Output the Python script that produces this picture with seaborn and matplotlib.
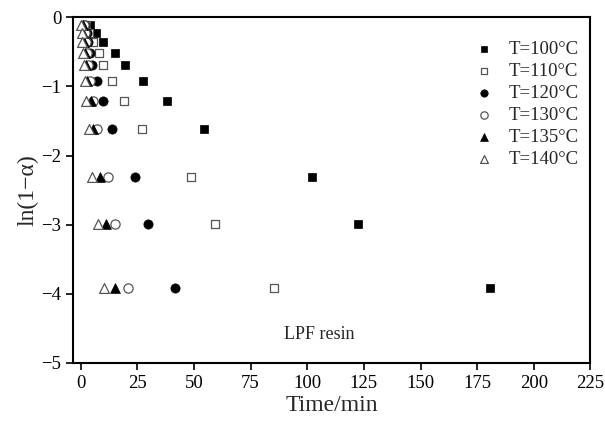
import numpy as np
import pandas as pd
import matplotlib
matplotlib.use("Agg")
import matplotlib.pyplot as plt
import seaborn as sns

# ln(1-alpha) levels, alpha = 0.1 ... 0.98
ln_conv = [-0.105, -0.223, -0.357, -0.511, -0.693, -0.916, -1.204, -1.609, -2.303, -2.996, -3.912]

t_100 = [4.2, 6.6, 10.0, 15.0, 19.5, 27.7, 37.9, 54.6, 102.2, 122.6, 180.5]
t_110 = [2.5, 3.6, 5.4, 7.9, 10.0, 13.8, 19.2, 27.2, 48.8, 59.2, 85.2]
t_120 = [1.9, 2.6, 3.4, 3.9, 5.1, 7.3, 9.7, 13.8, 24.0, 29.6, 41.5]
t_130 = [1.3, 1.7, 2.2, 2.7, 3.3, 4.0, 5.4, 7.3, 11.9, 15.1, 20.7]
t_135 = [0.9, 1.2, 1.6, 2.0, 2.5, 3.0, 4.4, 5.6, 8.6, 11.2, 15.1]
t_140 = [0.3, 0.4, 0.7, 1.0, 1.3, 1.75, 2.5, 3.65, 5.2, 7.6, 10.5]

labels = ["T=100°C", "T=110°C", "T=120°C", "T=130°C", "T=135°C", "T=140°C"]
times = [t_100, t_110, t_120, t_130, t_135, t_140]

x_ticks = [0, 25, 50, 75, 100, 125, 150, 175, 200, 225]
y_ticks = [0, -1, -2, -3, -4, -5]

sns.set_theme(style="ticks")
plt.rcParams["font.family"] = ["Liberation Serif", "DejaVu Serif"]

styles = [
    dict(marker="s", s=34, color="black", edgecolor="black", linewidth=0.5),
    dict(marker="s", s=34, facecolor="white", edgecolor="#555555", linewidth=0.9),
    dict(marker="o", s=44, color="black", edgecolor="black", linewidth=0.5),
    dict(marker="o", s=44, facecolor="white", edgecolor="#555555", linewidth=0.9),
    dict(marker="^", s=50, color="black", edgecolor="black", linewidth=0.5),
    dict(marker="^", s=50, facecolor="white", edgecolor="#555555", linewidth=0.9),
]

fig = plt.figure(figsize=(6.05, 4.24), dpi=100)
ax = fig.add_axes([0.121, 0.144, 0.855, 0.815])

for t, lab, st in zip(times, labels, styles):
    df = pd.DataFrame({"time": t, "y": ln_conv})
    sns.scatterplot(data=df, x="time", y="y", ax=ax, label=lab, zorder=3, **st)

ax.set_xlim(-3.3, 225)
ax.set_ylim(-5, 0)
ax.set_xticks(x_ticks)
ax.set_yticks(y_ticks)
ax.tick_params(direction="out", length=5, width=1.2, labelsize=13.5, colors="black")
ax.tick_params(top=False, right=False)
for sp in ax.spines.values():
    sp.set_visible(True)
    sp.set_linewidth(1.5)
    sp.set_color("black")

ax.set_xlabel("Time/min", fontsize=17, labelpad=2)
ax.set_ylabel("ln(1\u2212\u03b1)", fontsize=17, labelpad=2)

ax.text(0.475, 0.081, "LPF resin", transform=ax.transAxes, ha="center",
        va="center", fontsize=13)

leg = ax.legend(loc="upper right", bbox_to_anchor=(1.0, 0.965), frameon=False,
                fontsize=13.5, handletextpad=0.35, labelspacing=0.26,
                markerscale=0.8, borderaxespad=0.2)

fig.savefig("out.png", dpi=100)
